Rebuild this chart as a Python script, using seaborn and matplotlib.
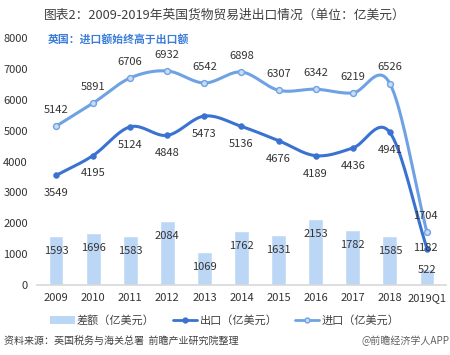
import numpy as np
import pandas as pd
import matplotlib
matplotlib.use("Agg")
import matplotlib.pyplot as plt
import seaborn as sns
from matplotlib.lines import Line2D
from matplotlib.patches import Patch

categories = ["2009", "2010", "2011", "2012", "2013", "2014", "2015", "2016", "2017", "2018", "2019Q1"]
diff_vals = [1593, 1696, 1583, 2084, 1069, 1762, 1631, 2153, 1782, 1585, 522]
export_vals = [3549, 4195, 5124, 4848, 5473, 5136, 4676, 4189, 4436, 4941, 1182]
import_vals = [5142, 5891, 6706, 6932, 6542, 6898, 6307, 6342, 6219, 6526, 1704]
yticks = [0, 1000, 2000, 3000, 4000, 5000, 6000, 7000, 8000]

sns.set_theme(style="white")
plt.rcParams['font.family'] = ['Noto Sans CJK SC', 'DejaVu Sans']

df = pd.DataFrame({"cat": categories, "diff": diff_vals, "exp": export_vals, "imp": import_vals})
df["x"] = np.arange(len(categories))

c_bar = "#bcd6f6"
c_exp = "#3a72d2"
c_imp = "#6ea2e4"

fig = plt.figure(figsize=(4.5, 3.55), dpi=100)
ax = fig.add_axes([0.0833, 0.197, 0.9067, 0.696])

sns.barplot(data=df, x="cat", y="diff", color=c_bar, width=0.4, ax=ax, saturation=1)


def smooth(xs, ys, n=20):
    xs = np.asarray(xs, float); ys = np.asarray(ys, float)
    P = np.column_stack([xs, ys])
    P = np.vstack([P[0] - (P[1] - P[0]), P, P[-1] + (P[-1] - P[-2])])
    out = []
    for i in range(1, len(P) - 2):
        p0, p1, p2, p3 = P[i - 1], P[i], P[i + 1], P[i + 2]
        t = np.linspace(0, 1, n, endpoint=False)[:, None]
        seg = 0.5 * ((2 * p1) + (-p0 + p2) * t + (2 * p0 - 5 * p1 + 4 * p2 - p3) * t ** 2
                     + (-p0 + 3 * p1 - 3 * p2 + p3) * t ** 3)
        out.append(seg)
    out.append(P[-2][None, :])
    out = np.vstack(out)
    return out[:, 0], out[:, 1]

sx, sy = smooth(df["x"], df["imp"])
ax.plot(sx, sy, color=c_imp, lw=2.2, zorder=3)
sx, sy = smooth(df["x"], df["exp"])
ax.plot(sx, sy, color=c_exp, lw=2.2, zorder=3)

sns.scatterplot(x=df["x"], y=df["imp"], ax=ax, color="#c9dcf5", edgecolor=c_imp, linewidth=1.0, s=18, zorder=4)
sns.scatterplot(x=df["x"], y=df["exp"], ax=ax, color=c_exp, edgecolor=c_exp, s=18, zorder=4)

tc = "#333333"
fs = 8
last = len(categories) - 1
for i, (d, e, m) in enumerate(zip(diff_vals, export_vals, import_vals)):
    if i < last:
        ax.text(i, m + 530, str(m), ha="center", va="center", fontsize=fs, color=tc, zorder=5)
        ax.text(i, e - 580, str(e), ha="center", va="center", fontsize=fs, color=tc, zorder=5)
    else:
        ax.text(i - 0.05, m + 540, str(m), ha="center", va="center", fontsize=fs, color=tc, zorder=5)
        ax.text(i - 0.05, e + 30, str(e), ha="center", va="center", fontsize=fs, color=tc, zorder=5)
    if d > 800:
        ax.text(i, d - 485, str(d), ha="center", va="center", fontsize=fs, color=tc, zorder=5)
    else:
        ax.text(i, d - 40, str(d), ha="center", va="center", fontsize=fs, color=tc, zorder=5)

ax.set_ylim(0, 8000)
ax.set_xlim(-0.5, len(categories) - 0.5)
ax.set_yticks(yticks)
ax.set_yticklabels([str(v) for v in yticks], fontsize=fs, color=tc)
ax.tick_params(axis="x", labelsize=fs, colors=tc, length=0, pad=6)
ax.tick_params(axis="y", length=0, pad=7)
ax.set_xlabel("")
ax.set_ylabel("")
for s in ["top", "right", "left"]:
    ax.spines[s].set_visible(False)
ax.spines["bottom"].set_color("#d9d9d9")

fig.text(0.107, 0.889, "英国：进口额始终高于出口额", fontsize=7.8,
         color="#3b7dd8", fontweight="bold", ha="left", va="center")

fig.text(0.5, 0.958, "图表2：2009-2019年英国货物贸易进出口情况（单位：亿美元）", ha="center", va="center",
         fontsize=9.2, color="#404040")

handles = [Patch(facecolor=c_bar, edgecolor="none"),
           Line2D([0], [0], color=c_exp, lw=2, marker="o", markersize=3.5),
           Line2D([0], [0], color=c_imp, lw=2, marker="o", markersize=3.5, markerfacecolor="#c9dcf5")]
labels = ["差额（亿美元）", "出口（亿美元）", "进口（亿美元）"]
fig.legend(handles, labels, loc="center", bbox_to_anchor=(0.5, 0.098), ncol=3, frameon=False,
           fontsize=8, handlelength=2.2, columnspacing=1.6, handletextpad=0.2,
           labelcolor="#404040")

fig.text(0.01, 0.04, "资料来源：英国税务与海关总署  前瞻产业研究院整理", ha="left", va="center",
         fontsize=7.2, color="#404040", style="italic")
fig.text(0.998, 0.04, "@前瞻经济学人APP", ha="right", va="center", fontsize=7.2, color="#606060")

fig.savefig("out.png", dpi=100)
